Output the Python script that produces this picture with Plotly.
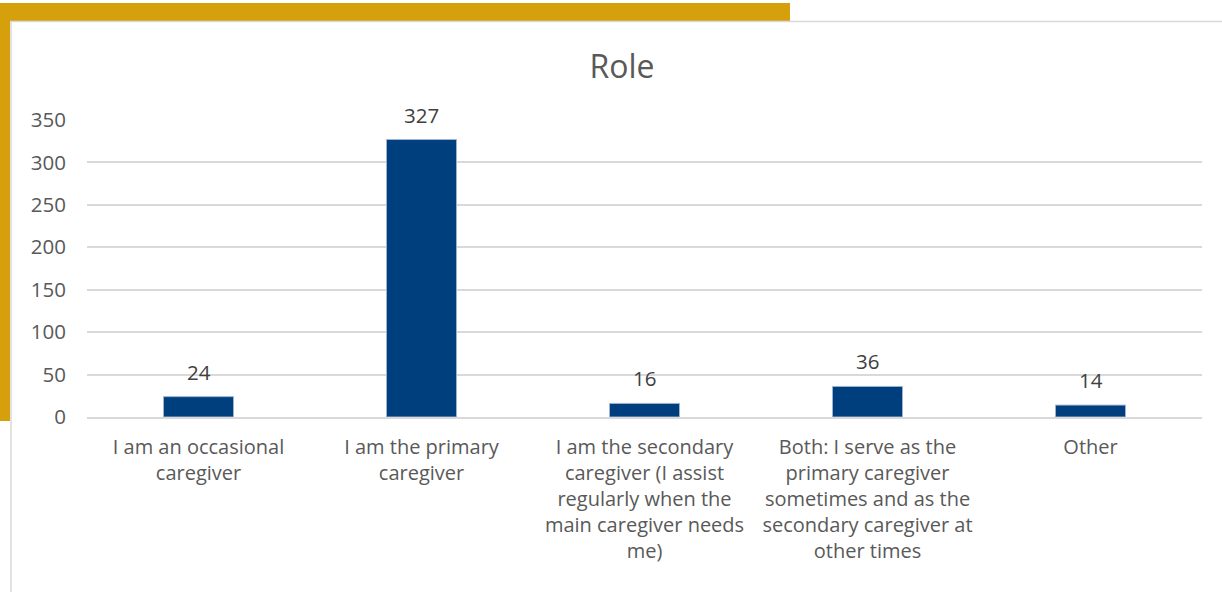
import plotly.graph_objects as go

categories = [
    "I am an occasional<br>caregiver",
    "I am the primary<br>caregiver",
    "I am the secondary<br>caregiver (I assist<br>regularly when the<br>main caregiver needs<br>me)",
    "Both: I serve as the<br>primary caregiver<br>sometimes and as the<br>secondary caregiver at<br>other times",
    "Other",
]
values = [24, 327, 16, 36, 14]
y_ticks = [0, 50, 100, 150, 200, 250, 300, 350]

W, H = 1222, 592
L, R, T, B = 87, 20, 120, 175
pw, ph = W - L - R, H - T - B

def px(x):
    return (x - L) / pw

def py(y):
    return (H - B - y) / ph

GOLD = "#D69F0C"
GREY_TXT = "#595959"
BORDER = "#D9D9D9"

fig = go.Figure()
fig.add_trace(go.Bar(
    x=categories, y=values,
    marker=dict(color="#003F7E", line=dict(color="#9FB3D1", width=1)),
    hoverinfo="x+y",
))

for c, v in zip(categories, values):
    fig.add_annotation(x=c, y=v, text=str(v), showarrow=False,
                       yanchor="bottom", yshift=9,
                       font=dict(family="Open Sans", size=20.5, color="#404040"))

shapes = [
    # gold decorative bars
    dict(type="rect", xref="paper", yref="paper", x0=px(0), x1=px(790), y0=py(3), y1=py(21),
         fillcolor=GOLD, line=dict(width=0), layer="below"),
    dict(type="rect", xref="paper", yref="paper", x0=px(0), x1=px(10), y0=py(3), y1=py(421),
         fillcolor=GOLD, line=dict(width=0), layer="below"),
    # chart border
    dict(type="line", xref="paper", yref="paper", x0=px(10), x1=px(1222), y0=py(21.5), y1=py(21.5),
         line=dict(color=BORDER, width=1.5)),
    dict(type="line", xref="paper", yref="paper", x0=px(11), x1=px(11), y0=py(21.5), y1=py(592),
         line=dict(color=BORDER, width=1.5)),
]

fig.update_layout(
    width=W, height=H,
    margin=dict(l=L, r=R, t=T, b=B, autoexpand=False),
    paper_bgcolor="white", plot_bgcolor="white",
    font=dict(family="Open Sans", color=GREY_TXT),
    title=dict(text="Role", x=(622) / W, xanchor="center", y=1 - 67 / H, yanchor="middle",
               font=dict(family="Open Sans", size=32, color=GREY_TXT)),
    bargap=0.686,
    showlegend=False,
    shapes=shapes,
    xaxis=dict(showgrid=False, showline=True, linecolor=BORDER, linewidth=1.5,
               tickfont=dict(family="Open Sans", size=20, color=GREY_TXT),
               ticks="", ticklabelstandoff=11),
    yaxis=dict(range=[0, 350], tickvals=y_ticks, showgrid=True, gridcolor=BORDER, gridwidth=1.5,
               zeroline=False, showline=False, ticks="",
               tickfont=dict(family="Open Sans", size=20.5, color=GREY_TXT),
               ticklabelstandoff=20),
)

fig.write_html("out.html", config={"displayModeBar": False},
               post_script="document.body.style.margin='0';")
